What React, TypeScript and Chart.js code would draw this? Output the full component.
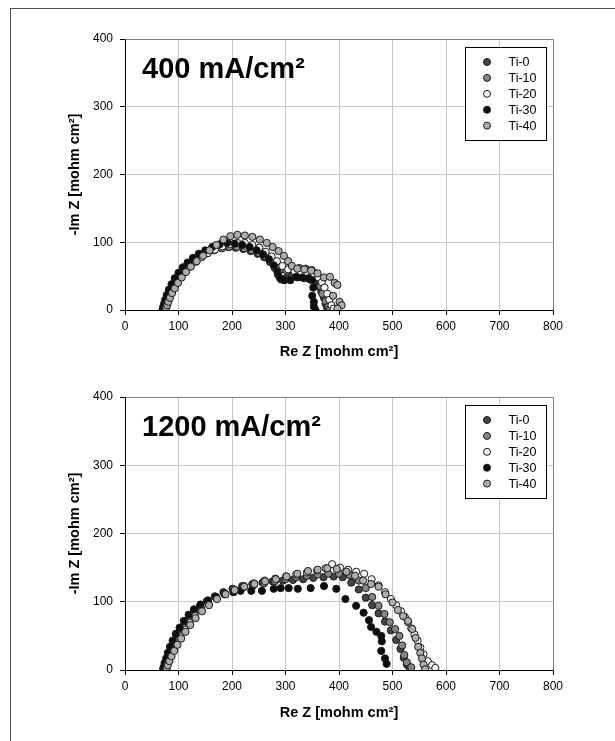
import React, { useEffect, useRef } from "react";
import { Chart, registerables } from "chart.js";

Chart.register(...registerables);

const SERIES_LABELS = ["Ti-0", "Ti-10", "Ti-20", "Ti-30", "Ti-40"];
const SERIES_COLORS = ["#454545", "#868686", "#f2f2f2", "#0d0d0d", "#adadad"];

const PANEL_TITLES = ["400 mA/cm²", "1200 mA/cm²"];
const X_TITLE = "Re Z [mohm cm²]";
const Y_TITLE = "-Im Z [mohm cm²]";
const X_RANGE = [0, 800, 100];
const Y_RANGE = [0, 400, 100];

type P = [number, number];

// ---- 400 mA/cm2 ----
const A_TI0: P[] = [[72,0],[73,4],[75,9],[77,15],[80,22],[84,30],[89,38],[95,46],[102,54],[110,61],[119,68],[129,74],[140,80],[152,85],[165,89],[179,92],[193,93],[207,92],[221,90],[235,87],[248,83],[260,78],[271,71],[280,62],[286,52],[292,45],[301,47],[312,50],[323,48],[335,47],[346,45],[356,42],[362,35],[367,27],[372,18],[375,9],[378,3]];
const A_TI10: P[] = [[74,0],[75,4],[77,9],[79,15],[82,21],[86,28],[91,36],[97,44],[104,52],[112,59],[121,66],[131,73],[142,79],[154,84],[167,88],[181,91],[195,93],[209,93],[223,91],[237,88],[250,84],[262,79],[273,73],[283,66],[292,60],[302,58],[314,61],[326,62],[338,61],[349,59],[357,54],[362,46],[365,35],[369,24],[375,13],[380,5],[383,1]];
const A_TI20: P[] = [[75,0],[76,3],[78,8],[80,13],[83,19],[87,26],[92,33],[98,41],[105,49],[113,57],[122,64],[132,71],[143,78],[155,84],[168,89],[182,94],[196,97],[210,99],[224,99],[238,96],[251,92],[263,86],[274,79],[284,72],[294,65],[305,60],[317,57],[329,56],[341,55],[352,52],[361,48],[368,41],[373,33],[378,24],[382,15],[386,7],[390,2]];
const A_TI30: P[] = [[70,0],[71,4],[73,9],[75,15],[78,22],[82,30],[87,38],[93,47],[100,55],[108,63],[117,70],[127,77],[138,83],[150,88],[163,93],[177,97],[191,99],[205,98],[219,96],[233,93],[246,88],[258,82],[269,75],[278,66],[285,56],[290,47],[298,44],[309,44],[320,49],[331,48],[343,47],[350,44],[352,33],[350,21],[353,12],[353,5],[356,0]];
const A_TI40: P[] = [[76,0],[77,3],[79,7],[81,12],[84,18],[88,25],[93,32],[99,40],[106,48],[114,56],[123,64],[134,72],[146,80],[158,88],[171,96],[184,104],[197,109],[210,111],[224,110],[238,108],[252,104],[265,99],[276,93],[287,87],[297,80],[305,72],[312,65],[322,61],[335,60],[348,58],[360,54],[372,48],[383,49],[392,40],[397,37],[389,21],[401,12],[405,7],[397,2]];

// ---- 1200 mA/cm2 ----
const B_TI0: P[] = [[73,0],[74,5],[76,11],[79,18],[83,26],[88,35],[94,44],[101,54],[109,64],[118,74],[128,84],[140,93],[153,101],[168,108],[184,114],[201,119],[219,123],[238,126],[257,128],[276,130],[295,131],[314,132],[333,133],[352,135],[371,136],[390,137],[407,136],[423,128],[437,118],[450,106],[462,95],[474,83],[486,71],[497,58],[507,44],[515,31],[521,18],[527,8],[532,2]];
const B_TI10: P[] = [[75,0],[76,4],[78,9],[81,16],[85,24],[90,33],[96,42],[103,52],[111,62],[120,72],[130,82],[142,91],[155,99],[170,106],[186,112],[203,117],[221,121],[240,124],[260,127],[280,130],[300,133],[320,136],[340,138],[360,140],[380,141],[400,141],[420,139],[437,131],[450,120],[462,107],[474,94],[485,82],[495,70],[505,60],[513,50],[518,36],[522,22],[527,11],[535,4]];
const B_TI20: P[] = [[76,0],[77,3],[79,8],[82,14],[86,22],[91,30],[97,39],[104,49],[112,59],[121,69],[131,79],[143,88],[156,97],[171,105],[187,112],[204,118],[222,123],[241,127],[261,131],[281,134],[301,137],[320,140],[340,143],[359,146],[375,149],[387,155],[402,150],[417,147],[432,144],[447,141],[461,133],[474,124],[486,114],[497,104],[507,95],[516,86],[523,78],[529,70],[535,61],[541,52],[547,43],[552,33],[558,23],[566,13],[574,7],[580,3]];
const B_TI30: P[] = [[71,0],[72,4],[74,10],[77,17],[80,25],[84,34],[89,43],[95,53],[102,62],[110,72],[119,81],[129,89],[141,96],[155,102],[170,107],[186,111],[203,114],[216,116],[236,116],[256,116],[278,119],[291,120],[306,120],[323,119],[347,120],[372,123],[395,119],[412,104],[432,94],[446,84],[456,73],[460,63],[470,56],[479,50],[480,42],[479,28],[486,17],[489,9]];
const B_TI40: P[] = [[77,0],[78,3],[80,7],[83,13],[87,20],[92,28],[98,37],[105,46],[113,56],[122,66],[132,76],[144,86],[157,95],[172,104],[188,111],[205,117],[223,122],[242,126],[262,130],[282,133],[302,137],[322,141],[342,145],[360,147],[378,149],[396,148],[414,144],[430,138],[445,131],[460,126],[474,122],[487,111],[500,99],[510,88],[520,79],[529,72],[537,60],[543,47],[548,34],[552,25],[555,17],[558,8],[561,1]];

const PANEL_DATA: P[][][] = [
  [A_TI0, A_TI10, A_TI20, A_TI30, A_TI40],
  [B_TI0, B_TI10, B_TI20, B_TI30, B_TI40],
];

const FONT = '"Liberation Sans", Arial, sans-serif';

function alignPx(v: number) {
  return Math.round(v - 0.5) + 0.5;
}

function makeDecor(title: string) {
  return {
    id: "decor",
    beforeDatasetsDraw(chart: any) {
      const { ctx, chartArea: a } = chart;
      ctx.save();
      ctx.strokeStyle = "#808080";
      ctx.lineWidth = 1;
      ctx.beginPath();
      ctx.moveTo(alignPx(a.left), alignPx(a.top));
      ctx.lineTo(alignPx(a.right), alignPx(a.top));
      ctx.lineTo(alignPx(a.right), alignPx(a.bottom));
      ctx.stroke();
      ctx.restore();
    },
    afterDatasetsDraw(chart: any) {
      const { ctx, chartArea: a } = chart;
      ctx.save();
      // panel title
      ctx.fillStyle = "#000";
      ctx.font = `bold 29px ${FONT}`;
      ctx.textBaseline = "alphabetic";
      ctx.textAlign = "left";
      ctx.fillText(title, a.left + 17, a.top + 39);
      // legend
      const bx = alignPx(a.right - 88);
      const by = alignPx(a.top + 8.5);
      const bw = 81;
      const bh = 93;
      ctx.fillStyle = "#fff";
      ctx.fillRect(bx, by, bw, bh);
      ctx.strokeStyle = "#000";
      ctx.lineWidth = 1;
      ctx.strokeRect(bx, by, bw, bh);
      chart.data.datasets.forEach((ds: any, i: number) => {
        const cy = by + 14.5 + i * 15.9;
        ctx.beginPath();
        ctx.arc(bx + 21.5, cy, 3.5, 0, Math.PI * 2);
        ctx.fillStyle = ds.backgroundColor;
        ctx.fill();
        ctx.strokeStyle = ds.borderColor;
        ctx.stroke();
        ctx.fillStyle = "#000";
        ctx.font = `12.5px ${FONT}`;
        ctx.textBaseline = "middle";
        ctx.fillText(ds.label, bx + 43, cy + 0.5);
      });
      ctx.restore();
    },
  };
}

function Panel({ index, top, xHeight, xTitlePad }: { index: number; top: number; xHeight: number; xTitlePad: number }) {
  const ref = useRef<HTMLCanvasElement | null>(null);
  useEffect(() => {
    if (!ref.current) return;
    const series = PANEL_DATA[index];
    const chart = new Chart(ref.current, {
      type: "scatter",
      data: {
        datasets: series.map((pts, i) => ({
          label: SERIES_LABELS[i],
          data: pts.map(([x, y]) => ({ x, y })),
          backgroundColor: SERIES_COLORS[i],
          borderColor: "#1a1a1a",
          borderWidth: 1,
          pointRadius: 3.6,
          showLine: false,
          order: series.length - i,
        })),
      },
      options: {
        responsive: false,
        maintainAspectRatio: false,
        animation: false,
        layout: { padding: { left: 60, right: 62, top: 39, bottom: 0 } },
        plugins: { legend: { display: false }, tooltip: { enabled: false } },
        scales: {
          x: {
            type: "linear",
            min: X_RANGE[0],
            max: X_RANGE[1],
            afterFit: (s: any) => { s.height = xHeight; },
            ticks: { stepSize: X_RANGE[2], padding: 4, color: "#000", font: { family: FONT, size: 12 }, maxRotation: 0 },
            grid: { color: "#c8c8c8", tickColor: "#000", tickLength: 5 },
            border: { color: "#000", width: 1 },
            title: { display: true, text: X_TITLE, color: "#000", font: { family: FONT, size: 14.5, weight: "bold" }, padding: { top: 0, bottom: xTitlePad } },
          },
          y: {
            type: "linear",
            min: Y_RANGE[0],
            max: Y_RANGE[1],
            afterFit: (s: any) => { s.width = 65; },
            ticks: { stepSize: Y_RANGE[2], padding: 7, color: "#000", font: { family: FONT, size: 12 } },
            grid: { color: "#c8c8c8", tickColor: "#000", tickLength: 5 },
            border: { color: "#000", width: 1 },
            title: { display: true, text: Y_TITLE, color: "#000", font: { family: FONT, size: 14.5, weight: "bold" }, padding: { top: 6.3, bottom: 0 } },
          },
        },
      },
      plugins: [makeDecor(PANEL_TITLES[index])],
    } as any);
    return () => chart.destroy();
  }, [index, xHeight, xTitlePad]);
  return (
    <canvas
      ref={ref}
      width={615}
      height={370}
      style={{ position: "fixed", left: 0, top, width: 615, height: 370 }}
    />
  );
}

export default function App() {
  return (
    <div>
      <div
        style={{
          position: "fixed",
          left: 10,
          top: 8,
          width: 605,
          height: 733,
          borderLeft: "1px solid #505050",
          borderTop: "1px solid #505050",
          boxSizing: "border-box",
          background: "#fff",
        }}
      />
      <Panel index={0} top={0} xHeight={60} xTitlePad={9.3} />
      <Panel index={1} top={358} xHeight={58} xTitlePad={6.3} />
    </div>
  );
}
